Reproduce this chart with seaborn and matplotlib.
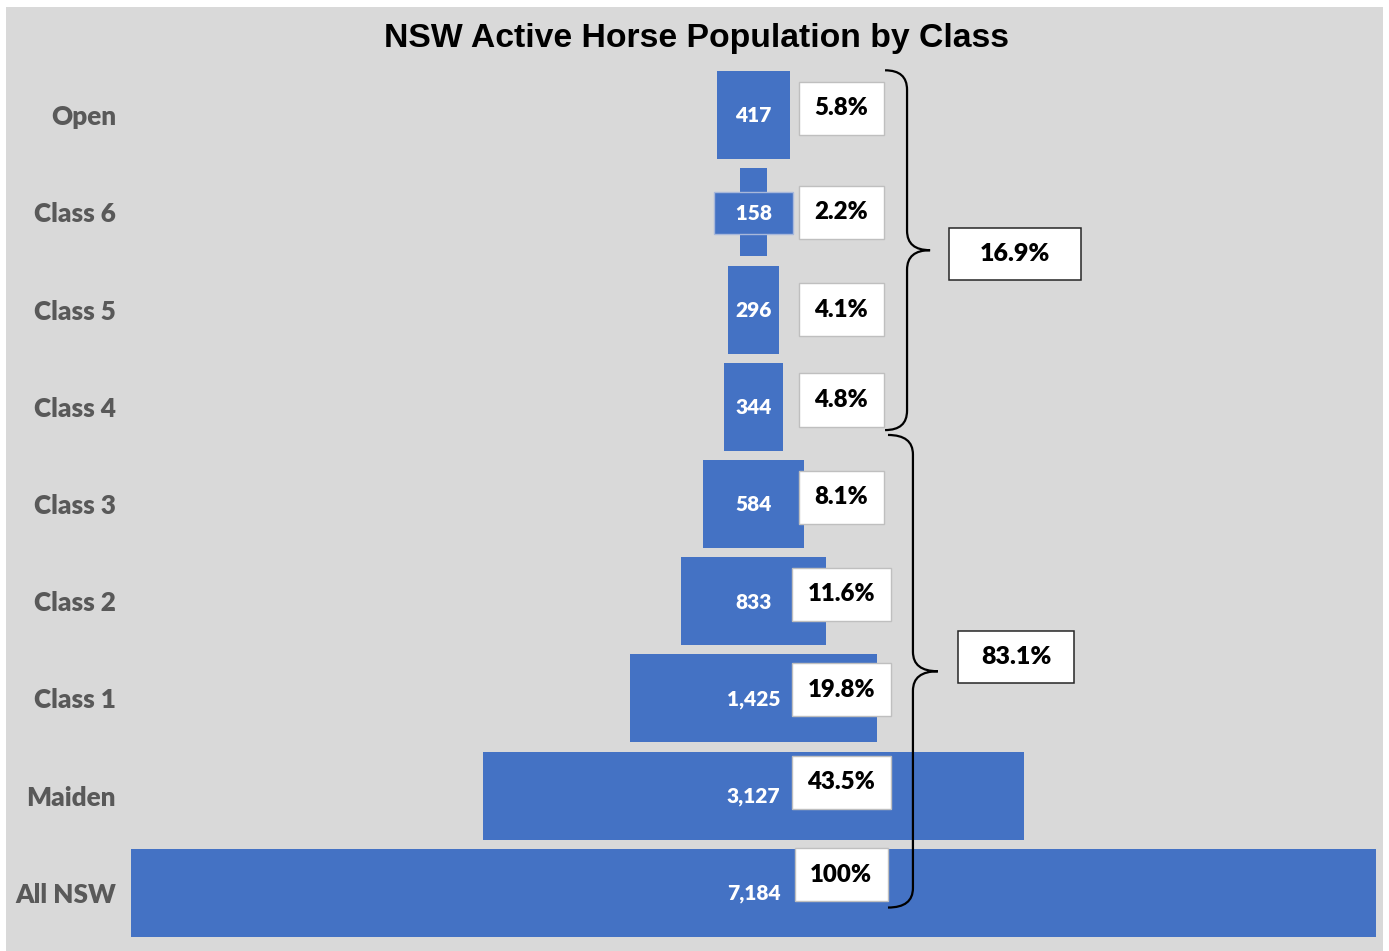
import numpy as np
import pandas as pd
import matplotlib
matplotlib.use("Agg")
import matplotlib.pyplot as plt
import seaborn as sns
from matplotlib.font_manager import FontProperties
from matplotlib.path import Path
from matplotlib.patches import PathPatch, Rectangle

# ==========================================
# DATA
# ==========================================

classes = ["Open", "Class 6", "Class 5", "Class 4", "Class 3",
           "Class 2", "Class 1", "Maiden", "All NSW"]
horses = [417, 158, 296, 344, 584, 833, 1425, 3127, 7184]
pct_labels = ["5.8%", "2.2%", "4.1%", "4.8%", "8.1%",
              "11.6%", "19.8%", "43.5%", "100%"]
group_labels = ["16.9%", "83.1%"]

# label nudges (row units), brace spans (top, bottom) and box placement
pct_dy = [-0.07, 0, 0, -0.07, -0.07, -0.07, -0.09, -0.14, -0.19]
brace_spans = [(-0.46, 3.24), (3.29, 8.15)]
brace_x = [(4351, 4478, 4611), (4368, 4512, 4656)]
box_cx = [5101, 5107]
box_dy = [0.04, -0.15]
box_w = [762, 670]

BLUE = "#4472C4"
BG = "#D9D9D9"

total = max(horses)
df = pd.DataFrame({"cls": classes, "n": horses})
df["right"] = (total + df["n"]) / 2
df["spacer"] = (total - df["n"]) / 2

def fp(size):
    return FontProperties(family="Lato", weight="heavy", size=size)

# ==========================================
# FIGURE
# ==========================================

sns.set_theme(style="white")
plt.rcParams["font.family"] = "Lato"

fig = plt.figure(figsize=(13.89, 9.51), dpi=100, facecolor="white")
fig.patches.append(Rectangle((6 / 1389, 0), 1377 / 1389, 944 / 951,
                             transform=fig.transFigure, facecolor=BG,
                             edgecolor="none", zorder=-10))
ax = fig.add_axes([131 / 1389, 9.4 / 951, 1245 / 1389, 875.2 / 951])
ax.set_facecolor("none")

# funnel = full bar to right edge, then background-coloured spacer on the left
sns.barplot(data=df, x="right", y="cls", color=BLUE, width=0.905,
            saturation=1, linewidth=0, ax=ax)
sns.barplot(data=df, x="spacer", y="cls", color=BG, width=0.905,
            saturation=1, linewidth=0, ax=ax)

ax.set_xlim(0, total)
ax.set_ylim(8.5, -0.5)
ax.set_xlabel("")
ax.set_ylabel("")
ax.set_xticks([])
sns.despine(left=True, bottom=True)
ax.tick_params(axis="y", length=0, pad=10.8)
ax.set_yticks(range(len(classes)))
ax.set_yticklabels(classes, fontproperties=fp(18.8), color="#595959")

# value labels (centre of the funnel)
for i, v in enumerate(horses):
    box = None
    if v < 200:
        box = dict(boxstyle="square,pad=0.55", facecolor=BLUE,
                   edgecolor="#A8B8DA", linewidth=1)
    txt = f"  {v:,}  " if box else f"{v:,}"
    ax.text(total / 2, i + 0.01, txt, ha="center", va="center",
            color="white", fontproperties=fp(15), bbox=box, zorder=5)

# percentage boxes
for i, p in enumerate(pct_labels):
    ax.text(total * 0.5705, i + pct_dy[i], p, ha="center", va="center",
            color="black", fontproperties=fp(17.3), zorder=6,
            bbox=dict(boxstyle="square,pad=0.65", facecolor="white",
                      edgecolor="#BFBFBF", linewidth=1))

# ==========================================
# BRACES
# ==========================================

def brace(ax, y0, y1, x0, xv, xtip, r=0.2):
    ym = (y0 + y1) / 2
    verts = [(x0, y0), (xv, y0), (xv, y0 + r),
             (xv, ym - r),
             (xv, ym), (xtip, ym),
             (xv, ym), (xv, ym + r),
             (xv, y1 - r),
             (xv, y1), (x0, y1)]
    codes = [Path.MOVETO, Path.CURVE3, Path.CURVE3,
             Path.LINETO,
             Path.CURVE3, Path.CURVE3,
             Path.CURVE3, Path.CURVE3,
             Path.LINETO,
             Path.CURVE3, Path.CURVE3]
    ax.add_patch(PathPatch(Path(verts, codes), facecolor="none",
                           edgecolor="black", linewidth=1.6, zorder=7,
                           clip_on=False))
    return ym

for (y0, y1), lab, (x0, xv, xt), cx, dy, w in zip(
        brace_spans, group_labels, brace_x, box_cx, box_dy, box_w):
    ym = brace(ax, y0, y1, x0, xv, xt)
    h = 0.535
    ax.add_patch(Rectangle((cx - w / 2, ym + dy - h / 2), w, h,
                           facecolor="white", edgecolor="#262626",
                           linewidth=1.1, zorder=7))
    ax.text(cx, ym + dy, lab, ha="center", va="center", color="black",
            fontproperties=fp(18), zorder=8)

fig.text(697 / 1389, 1 - 39 / 951, "NSW Active Horse Population by Class",
         ha="center", va="center", fontsize=24.3, fontweight="bold",
         color="black", family="Liberation Sans")

fig.savefig("out.png", dpi=100, facecolor=fig.get_facecolor())
